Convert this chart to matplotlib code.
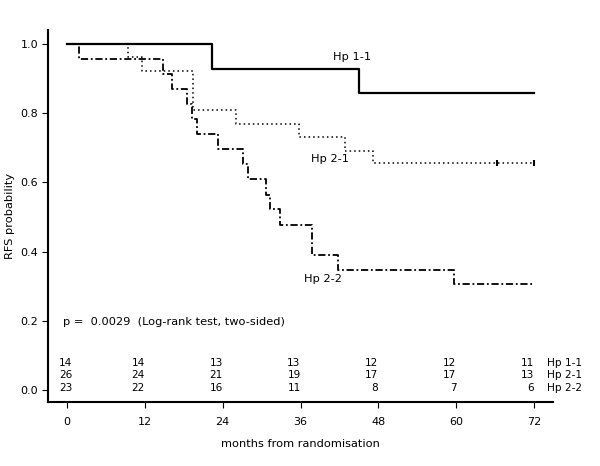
import matplotlib
matplotlib.use("Agg")
import matplotlib.pyplot as plt
import numpy as np

# Kaplan-Meier step data (event times in months, survival after step)
hp11_t = [0, 22.4, 45.0, 72]
hp11_s = [1.0, 0.929, 0.857, 0.857]

hp21_t = [0, 9.4, 11.6, 19.4, 26.1, 35.8, 42.9, 47.2, 72]
hp21_s = [1.0, 0.962, 0.923, 0.808, 0.769, 0.731, 0.692, 0.655, 0.655]
hp21_cens_t = [66.3, 72]
hp21_cens_s = [0.655, 0.655]

hp22_t = [0, 1.85, 14.8, 16.2, 18.5, 19.3, 20.0, 23.3, 27.1, 27.9, 30.7, 31.3,
          32.8, 37.8, 41.8, 59.7, 72]
hp22_s = [1.0, 0.957, 0.913, 0.870, 0.826, 0.783, 0.739, 0.696, 0.652, 0.609,
          0.565, 0.522, 0.478, 0.391, 0.348, 0.305, 0.305]

risk_times = [0, 12, 24, 36, 48, 60, 72]
risk_hp11 = [14, 14, 13, 13, 12, 12, 11]
risk_hp21 = [26, 24, 21, 19, 17, 17, 13]
risk_hp22 = [23, 22, 16, 11, 8, 7, 6]
group_names = ["Hp 1-1", "Hp 2-1", "Hp 2-2"]

plt.rcParams['font.family'] = ['DejaVu Sans']
fig = plt.figure(figsize=(6.0, 4.66), dpi=100)
ax = fig.add_axes([0.08, 0.1373, 0.8417, 0.7983])

ax.step(hp11_t, hp11_s, where='post', color='black', lw=1.6, linestyle='-')
ax.step(hp21_t, hp21_s, where='post', color='black', lw=1.1, linestyle=(0, (1, 2)))
ax.plot(hp21_cens_t, hp21_cens_s, linestyle='none', marker='|', color='black',
        markersize=4, mew=1.5)
ax.step(hp22_t, hp22_s, where='post', color='black', lw=1.3,
        linestyle=(0, (4, 1.5, 1, 1.5)))

ax.set_xlim(-2.93, 74.9)
ax.set_ylim(-0.0347, 1.0405)
ax.set_xticks(risk_times)
ax.set_yticks([0.0, 0.2, 0.4, 0.6, 0.8, 1.0])
ax.set_yticklabels(["0.0", "0.2", "0.4", "0.6", "0.8", "1.0"])
for s in ['top', 'right']:
    ax.spines[s].set_visible(False)
for s in ['left', 'bottom']:
    ax.spines[s].set_linewidth(1.5)
ax.tick_params(direction='out', length=4, width=0.8, labelsize=8)
ax.tick_params(axis='y', pad=3)
ax.tick_params(axis='x', pad=7)
ax.set_xlabel("months from randomisation", fontsize=8.2)
ax.xaxis.set_label_coords(0.5, -0.1)
ax.set_ylabel("RFS probability", fontsize=8.2)
ax.yaxis.set_label_coords(-0.066, 0.5)

fs = 8.2
ax.text(41.0, 0.962, "Hp 1-1", fontsize=fs, va='center', ha='left')
ax.text(37.6, 0.668, "Hp 2-1", fontsize=fs, va='center', ha='left')
ax.text(36.5, 0.321, "Hp 2-2", fontsize=fs, va='center', ha='left')
ax.text(-0.6, 0.196, "p =  0.0029  (Log-rank test, two-sided)", fontsize=fs,
        va='center', ha='left')

rows = [risk_hp11, risk_hp21, risk_hp22]
row_y = [0.078, 0.042, 0.007]
for r, y, name in zip(rows, row_y, group_names):
    for t, n in zip(risk_times, r):
        xpos = t + 0.8 if t == 0 else t
        ax.text(xpos, y, str(n), fontsize=7.6, ha='right', va='center')
    ax.text(73.9, y, name, fontsize=7.6, ha='left', va='center', clip_on=False)

fig.savefig("out.png", dpi=100)
